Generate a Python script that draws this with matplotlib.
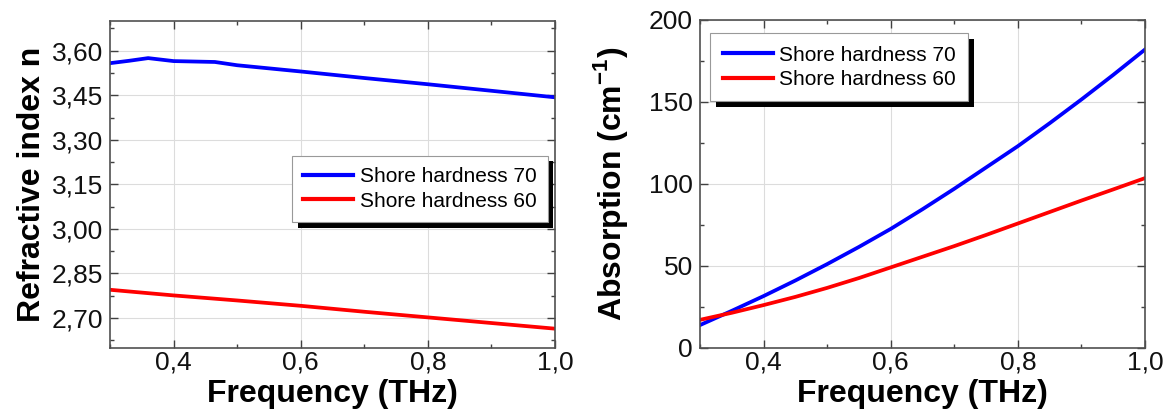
import matplotlib
matplotlib.use('Agg')
import matplotlib.pyplot as plt
from matplotlib.patches import Shadow
from matplotlib.ticker import MultipleLocator, FuncFormatter

plt.rcParams['font.family'] = ['Liberation Sans', 'DejaVu Sans']
plt.rcParams['mathtext.fontset'] = 'custom'
plt.rcParams['mathtext.rm'] = 'Liberation Sans'
plt.rcParams['mathtext.bf'] = 'Liberation Sans:bold'

# refractive index
freq_n_70 = [0.30, 0.33, 0.36, 0.40, 0.465, 0.50, 0.60, 0.70, 0.80, 0.90, 1.00]
n_70 = [3.558, 3.566, 3.575, 3.565, 3.562, 3.551, 3.530, 3.508, 3.487, 3.465, 3.443]
freq_n_60 = [0.30, 0.40, 0.50, 0.60, 0.70, 0.80, 0.90, 1.00]
n_60 = [2.795, 2.776, 2.759, 2.741, 2.721, 2.702, 2.683, 2.664]

# absorption
freq_a = [0.30, 0.35, 0.40, 0.45, 0.50, 0.55, 0.60, 0.65, 0.70, 0.75, 0.80, 0.85, 0.90, 0.95, 1.00]
a_70 = [13.8, 22.5, 31.5, 41.0, 51.0, 61.5, 72.5, 84.5, 97.0, 110.0, 123.0, 137.0, 151.5, 166.5, 182.0]
a_60 = [17.0, 21.3, 26.0, 31.0, 36.5, 42.5, 49.0, 55.5, 62.0, 68.8, 75.8, 82.8, 89.8, 96.6, 103.5]

labels = ['Shore hardness 70', 'Shore hardness 60']
colors = ['#0000ff', '#ff0000']

fig = plt.figure(figsize=(11.69, 4.19), dpi=100)
ax1 = fig.add_axes([0.0941, 0.1702, 0.3807, 0.7797])
ax2 = fig.add_axes([0.5988, 0.1702, 0.3807, 0.7821])

ax1.plot(freq_n_70, n_70, color=colors[0], lw=2.7, label=labels[0])
ax1.plot(freq_n_60, n_60, color=colors[1], lw=2.7, label=labels[1])
ax2.plot(freq_a, a_70, color=colors[0], lw=2.7, label=labels[0])
ax2.plot(freq_a, a_60, color=colors[1], lw=2.7, label=labels[1])

ax1.set_xlim(0.3, 1.0)
ax1.set_ylim(2.60, 3.70)
ax1.yaxis.set_major_locator(MultipleLocator(0.15))
ax1.yaxis.set_minor_locator(MultipleLocator(0.075))
ax1.yaxis.set_major_formatter(FuncFormatter(lambda v, p: ('%.2f' % v).replace('.', ',')))
ax1.set_ylabel('Refractive index n', fontsize=23, fontweight='bold', labelpad=3)

ax2.set_xlim(0.3, 1.0)
ax2.set_ylim(0, 200)
ax2.yaxis.set_major_locator(MultipleLocator(50))
ax2.yaxis.set_minor_locator(MultipleLocator(25))
ax2.set_ylabel('Absorption (cm$^{\\mathbf{-1}}$)', fontsize=23, fontweight='bold', labelpad=14)

for ax in (ax1, ax2):
    ax.xaxis.set_major_locator(MultipleLocator(0.2))
    ax.xaxis.set_minor_locator(MultipleLocator(0.1))
    ax.xaxis.set_major_formatter(FuncFormatter(lambda v, p: ('%.1f' % v).replace('.', ',')))
    ax.set_xlabel('Frequency (THz)', fontsize=23, fontweight='bold', labelpad=3)
    ax.tick_params(which='both', direction='in', top=True, right=True, colors='#404040',
                   labelcolor='#111111', labelsize=19)
    ax.tick_params(which='major', length=5.5, width=1)
    ax.tick_params(which='minor', length=3, width=1)
    ax.tick_params(axis='x', which='both', pad=2)
    ax.tick_params(axis='y', which='both', pad=5)
    ax.grid(True, which='major', color='#dcdcdc', lw=0.8)
    for s in ax.spines.values():
        s.set_color('#505050')
        s.set_linewidth(1.2)

leg_kw = dict(borderaxespad=0, fontsize=15, handlelength=2.4, handletextpad=0.3,
              fancybox=False, edgecolor='#999999', framealpha=1, labelspacing=0.25)
leg1 = ax1.legend(loc='upper right', bbox_to_anchor=(0.984, 0.587), borderpad=0.55, **leg_kw)
leg2 = ax2.legend(loc='upper left', bbox_to_anchor=(0.0225, 0.9594), borderpad=0.6, **leg_kw)
for leg in (leg1, leg2):
    leg.get_frame().set_linewidth(0.8)
    for line in leg.get_lines():
        line.set_linewidth(3)

fig.canvas.draw()
for ax, leg in ((ax1, leg1), (ax2, leg2)):
    sh = Shadow(leg.legendPatch, 4, -4, facecolor='black', edgecolor='none', alpha=1)
    sh.set_zorder(leg.get_zorder() - 0.1)
    ax.add_artist(sh)

fig.savefig('out.png', dpi=100, facecolor='white')
